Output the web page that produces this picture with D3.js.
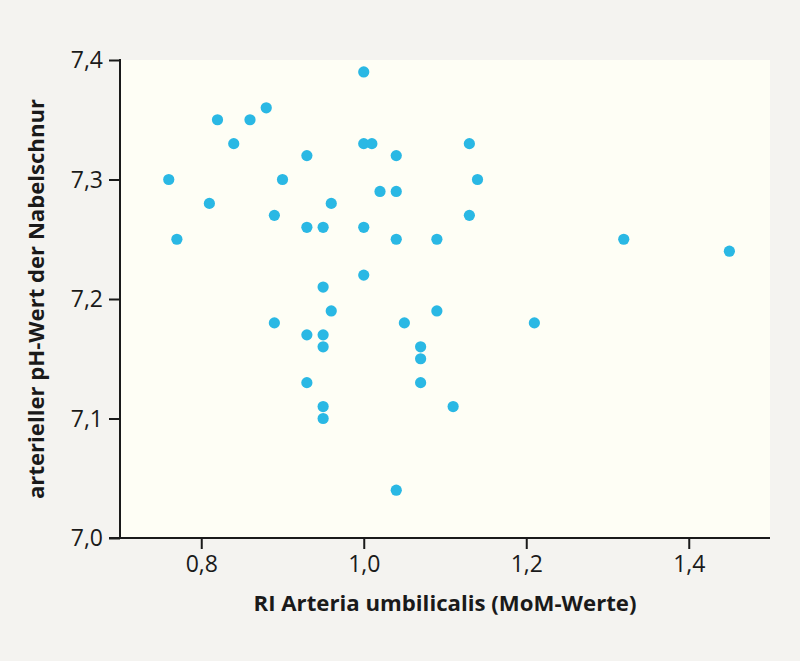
<!DOCTYPE html>
<meta charset="utf-8">
<html>
    <head>
        <script src="https://d3js.org/d3.v7.min.js"></script>
    </head>
    <style>
        body { margin: 0; background: #f4f3f0; }
        text { font-family: "Open Sans", "Noto Sans", sans-serif; fill: #1a1a1a; }
    </style>
    <body>

        <div id="scatter_viz"></div>

        <script>

            // RI Arteria umbilicalis (MoM) vs arterial pH
            var riMoM = [
                0.76, 0.77, 0.81, 0.82, 0.84, 0.86, 0.88, 0.89, 0.89, 0.90,
                0.93, 0.93, 0.93, 0.93, 0.95, 0.95, 0.95, 0.95, 0.95, 0.95,
                0.96, 0.96, 1.00, 1.00, 1.01, 1.00, 1.00, 1.02, 1.04, 1.04,
                1.04, 1.04, 1.05, 1.07, 1.07, 1.07, 1.09, 1.09, 1.11, 1.13,
                1.13, 1.14, 1.21, 1.32, 1.45
            ]
            var phWert = [
                7.30, 7.25, 7.28, 7.35, 7.33, 7.35, 7.36, 7.27, 7.18, 7.30,
                7.32, 7.26, 7.17, 7.13, 7.26, 7.21, 7.17, 7.16, 7.11, 7.10,
                7.28, 7.19, 7.39, 7.33, 7.33, 7.26, 7.22, 7.29, 7.32, 7.29,
                7.25, 7.04, 7.18, 7.16, 7.15, 7.13, 7.25, 7.19, 7.11, 7.33,
                7.27, 7.30, 7.18, 7.25, 7.24
            ]
            var xTicks = [0.8, 1.0, 1.2, 1.4]
            var yTicks = [7.0, 7.1, 7.2, 7.3, 7.4]

            var width = 800, height = 661
            var margin = { top: 60, right: 30, bottom: 123, left: 120 }

            var fmt = d => d3.format(".1f")(d).replace(".", ",")

            var svg = d3.select("#scatter_viz")
                .append("svg")
                .attr("width", width)
                .attr("height", height)
                .attr("viewBox", [0, 0, width, height])

            var x = d3.scaleLinear([0.7, 1.5], [margin.left, width - margin.right])
            var y = d3.scaleLinear([7.0, 7.4], [height - margin.bottom, margin.top])

            // plot background
            svg.append("rect")
                .attr("x", x(0.7))
                .attr("y", y(7.4))
                .attr("width", x(1.5) - x(0.7))
                .attr("height", y(7.0) - y(7.4))
                .attr("fill", "#fefef5")

            // points
            svg.append("g")
                .attr("fill", "#2ab8e4")
                .selectAll("circle")
                .data(d3.range(riMoM.length))
                .join("circle")
                .attr("cx", i => x(riMoM[i]))
                .attr("cy", i => y(phWert[i]))
                .attr("r", 5.6)

            // x axis
            svg.append("g")
                .attr("transform", `translate(0,${y(7.0)})`)
                .call(d3.axisBottom(x).tickValues(xTicks).tickFormat(fmt).tickSize(11).tickSizeOuter(0))
                .call(g => g.select(".domain").remove())
                .call(g => g.selectAll(".tick line").attr("stroke", "#1a1a1a").attr("stroke-width", 2))
                .call(g => g.selectAll(".tick text").attr("font-size", 23).attr("dy", "0.95em").attr("y", 12))
            svg.append("line")
                .attr("x1", x(0.7) - 11).attr("x2", x(1.5))
                .attr("y1", y(7.0)).attr("y2", y(7.0))
                .attr("stroke", "#1a1a1a").attr("stroke-width", 2)

            // y axis
            svg.append("g")
                .attr("transform", `translate(${x(0.7)},0)`)
                .call(d3.axisLeft(y).tickValues(yTicks).tickFormat(fmt).tickSize(11).tickSizeOuter(0))
                .call(g => g.select(".domain").remove())
                .call(g => g.selectAll(".tick line").attr("stroke", "#1a1a1a").attr("stroke-width", 2))
                .call(g => g.selectAll(".tick text").attr("font-size", 23).attr("x", -17).attr("dy", "0.33em"))
            svg.append("line")
                .attr("x1", x(0.7)).attr("x2", x(0.7))
                .attr("y1", y(7.4) - 1).attr("y2", y(7.0))
                .attr("stroke", "#1a1a1a").attr("stroke-width", 2)

            // axis titles
            svg.append("text")
                .attr("x", (x(0.7) + x(1.5)) / 2)
                .attr("y", 611)
                .attr("text-anchor", "middle")
                .attr("font-size", 22)
                .attr("font-weight", "bold")
                .attr("textLength", 383)
                .attr("lengthAdjust", "spacingAndGlyphs")
                .text("RI Arteria umbilicalis (MoM-Werte)")

            svg.append("text")
                .attr("transform", `translate(44,${(y(7.0) + y(7.4)) / 2}) rotate(-90)`)
                .attr("text-anchor", "middle")
                .attr("font-size", 22)
                .attr("font-weight", "bold")
                .attr("textLength", 400)
                .attr("lengthAdjust", "spacingAndGlyphs")
                .text("arterieller pH-Wert der Nabelschnur")

        </script>
    </body>
</html>
